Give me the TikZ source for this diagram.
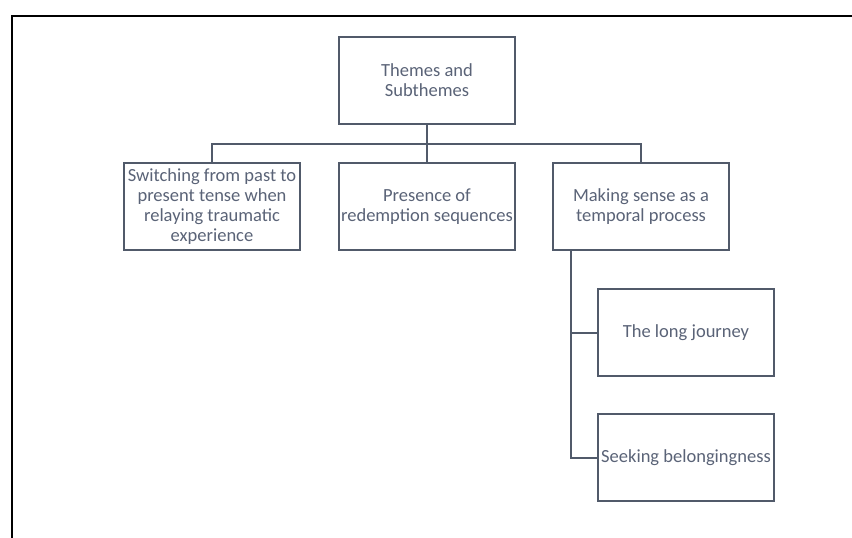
\documentclass[tikz,border=0pt]{standalone}
\usepackage{fontspec}
\setmainfont{Carlito}
\usetikzlibrary{positioning, calc}
\definecolor{txt}{HTML}{5A6377}
\definecolor{edge}{HTML}{515A6A}
\tikzset{
  theme/.style = {rectangle, draw=edge, line width=2pt, fill=white,
                  minimum width=176pt, minimum height=87pt, inner sep=1pt,
                  font=\fontsize{18.5}{20}\selectfont, align=center, text=txt},
  link/.style  = {draw=edge, line width=2pt},
  frame/.style = {draw=black, line width=2.2pt},
}

\begin{document}
\begin{tikzpicture}[x=1pt, y=1pt, node distance=37pt]

  \useasboundingbox (0,0) rectangle (852,-538);

  % outer frame (only top and left visible)
  \coordinate (fr-tl) at (12,-16);
  \coordinate (fr-tr) at (852,-16);
  \coordinate (fr-bl) at (12,-538);
  \draw[frame] (fr-bl) -- (fr-tl) -- (fr-tr);

  \node[theme]                     (root) at (427,-80.5) {Themes and\\Subthemes};
  \node[theme, below=of root]      (tense) {Presence of\\redemption sequences};
  \node[theme, left=of tense]      (switch) {Switching from past to\\present tense when\\relaying traumatic\\experience};
  \node[theme, right=36pt of tense] (sense) {Making sense as a\\temporal process};
  \node[theme, below=37pt of sense, xshift=45pt] (journey) {The long journey};
  \node[theme, below=36pt of journey] (belong) {Seeking belongingness};

  % bus from the root
  \coordinate (bus) at ($(root.south)!0.5!(tense.north)$);
  \draw[link] (root) -- (tense);
  \draw[link] (switch.north) |- (bus) -| (sense.north);

  % spine for the subthemes
  \coordinate (spine) at ([xshift=19pt]sense.south west);
  \draw[link] (spine) |- (belong.west);
  \draw[link] (spine |- journey.west) -- (journey.west);

\end{tikzpicture}
\end{document}
